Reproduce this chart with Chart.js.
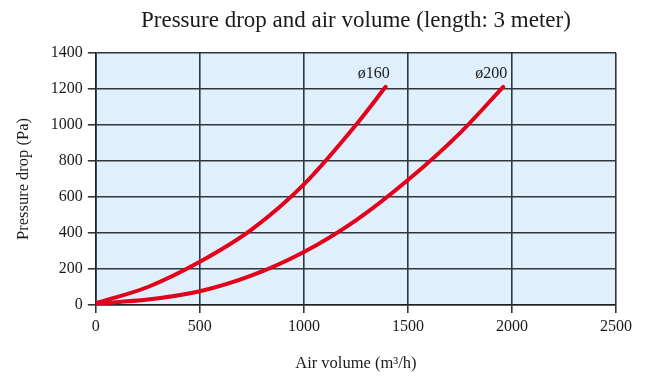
<!DOCTYPE html>
<html>
<head>
<meta charset="utf-8">
<script src="https://cdn.jsdelivr.net/npm/chart.js@4.4.1/dist/chart.umd.min.js"></script>
<style>
  html, body { margin: 0; padding: 0; background: #fff; }
  #wrap { width: 651px; height: 378px; }
</style>
</head>
<body>
<div id="wrap"><canvas id="chart"></canvas></div>
<script>
const chartElement = document.getElementById('chart') ;

const titleText = 'Pressure drop and air volume (length: 3 meter)' ;
const xTitle = 'Air volume (m³/h)' ;
const yTitle = 'Pressure drop (Pa)' ;

// duct diameters
const seriesNames = ['ø160', 'ø200'] ;

// air volume (m3/h) and pressure drop (Pa), read per curve
const flow160 = [0, 250, 500, 750, 1000, 1250, 1393] ;
const drop160 = [10, 100, 240, 420, 670, 1000, 1212] ;
const flow200 = [0, 250, 500, 750, 1000, 1250, 1500, 1750, 1958] ;
const drop200 = [8, 30, 76, 164, 294, 470, 694, 955, 1212] ;

const xMin = 0, xMax = 2500, xStep = 500 ;
const yMin = 0, yMax = 1400, yStep = 200 ;

const serif = "'Liberation Serif', 'Times New Roman', serif" ;
const lineRed = 'rgb(227, 0, 27)' ;
const ink = '#1a1a1a' ;

function toPoints(xs, ys) {
    return xs.map((x, i) => ({ x: x, y: ys[i] })) ;
}

// light blue plot background
const plotBackground = {
    id: 'plotBackground',
    beforeDraw(chart) {
        const { ctx, chartArea: { left, top, width, height } } = chart ;
        ctx.save() ;
        ctx.fillStyle = '#dff0fc' ;
        ctx.fillRect(left, top, width, height) ;
        ctx.restore() ;
    }
} ;

// title over the plot area + diameter labels at the end of each curve
const chartText = {
    id: 'chartText',
    afterDraw(chart) {
        const { ctx, chartArea: { left, right } } = chart ;
        ctx.save() ;
        ctx.fillStyle = ink ;
        ctx.font = '23px ' + serif ;
        ctx.textAlign = 'center' ;
        ctx.textBaseline = 'alphabetic' ;
        ctx.fillText(titleText, (left + right) / 2, 27) ;

        ctx.font = '16px ' + serif ;
        ctx.textAlign = 'right' ;
        chart.data.datasets.forEach((ds, i) => {
            const meta = chart.getDatasetMeta(i) ;
            const last = meta.data[meta.data.length - 1] ;
            ctx.fillText(seriesNames[i], last.x + 4, last.y - 9) ;
        }) ;
        ctx.restore() ;
    }
} ;

const tickFont = { family: serif, size: 16 } ;
const titleFont = { family: serif, size: 16.5 } ;

const chart = new Chart(chartElement, {
    type: 'scatter',
    data: {
        datasets: [{
            label: seriesNames[0],
            data: toPoints(flow160, drop160),
            showLine: true,
            borderColor: lineRed,
            borderWidth: 4,
            pointRadius: 0,
            cubicInterpolationMode: 'monotone',
            borderCapStyle: 'round'
        }, {
            label: seriesNames[1],
            data: toPoints(flow200, drop200),
            showLine: true,
            borderColor: lineRed,
            borderWidth: 4,
            pointRadius: 0,
            cubicInterpolationMode: 'monotone',
            borderCapStyle: 'round'
        }]
    },
    options: {
        responsive: true,
        maintainAspectRatio: false,
        animation: false,
        layout: {
            padding: { top: 53, right: 35, left: 10, bottom: 0 }
        },
        scales: {
            x: {
                type: 'linear',
                min: xMin,
                max: xMax,
                ticks: {
                    stepSize: xStep,
                    color: ink,
                    font: tickFont,
                    padding: 4,
                    maxRotation: 0,
                    callback: (v) => String(v)
                },
                grid: {
                    color: '#30373c',
                    lineWidth: 1.6,
                    tickLength: 8
                },
                border: { color: '#222', width: 1.6 },
                title: {
                    display: true,
                    text: xTitle,
                    color: ink,
                    font: titleFont,
                    padding: { top: 14 }
                }
            },
            y: {
                min: yMin,
                max: yMax,
                ticks: {
                    stepSize: yStep,
                    color: ink,
                    font: tickFont,
                    padding: 5,
                    callback: (v) => String(v)
                },
                grid: {
                    color: '#30373c',
                    lineWidth: 1.6,
                    tickLength: 8
                },
                border: { color: '#222', width: 1.6 },
                title: {
                    display: true,
                    text: yTitle,
                    color: ink,
                    font: titleFont,
                    padding: { bottom: 12 }
                }
            }
        },
        plugins: {
            legend: { display: false },
            tooltip: { enabled: false },
            title: { display: false }
        }
    },
    plugins: [plotBackground, chartText]
}) ;
</script>
</body>
</html>
